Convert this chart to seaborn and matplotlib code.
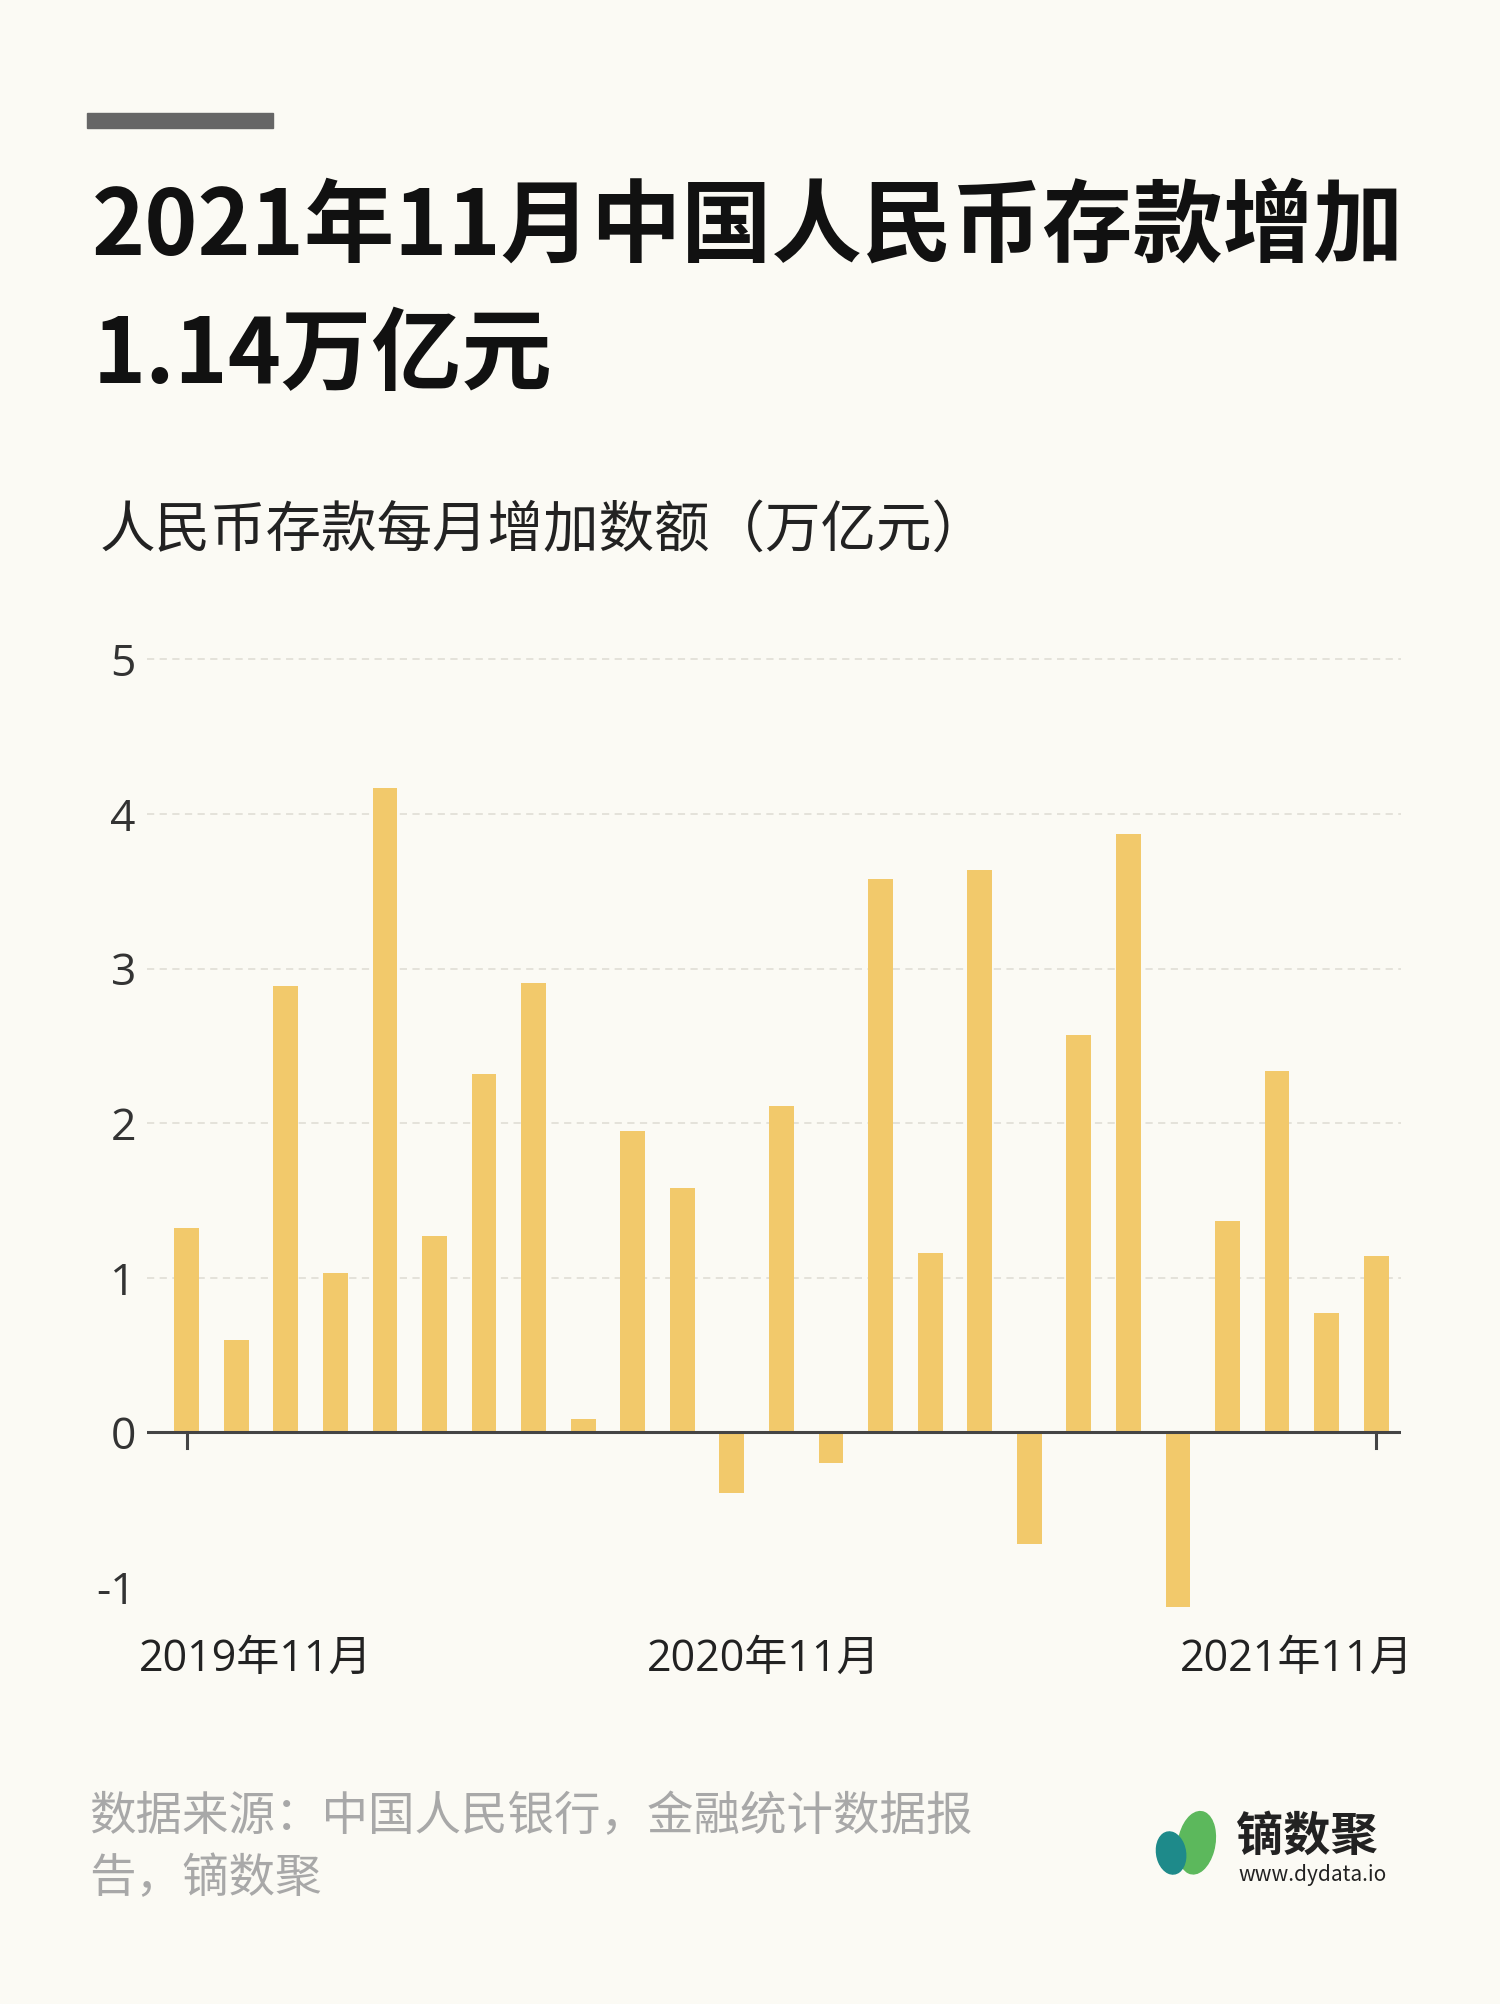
import matplotlib.pyplot as plt
import matplotlib.patches as mpatches
import pandas as pd
import seaborn as sns

plt.rcParams['font.family'] = 'Noto Sans CJK SC'

# monthly RMB deposit increase, trillion yuan
months = ['2019-11', '2019-12', '2020-01', '2020-02', '2020-03', '2020-04', '2020-05',
          '2020-06', '2020-07', '2020-08', '2020-09', '2020-10', '2020-11', '2020-12',
          '2021-01', '2021-02', '2021-03', '2021-04', '2021-05', '2021-06', '2021-07',
          '2021-08', '2021-09', '2021-10', '2021-11']
values = [1.32, 0.60, 2.89, 1.03, 4.17, 1.27, 2.32, 2.91, 0.09, 1.95, 1.58, -0.39, 2.11,
          -0.20, 3.58, 1.16, 3.64, -0.72, 2.57, 3.87, -1.13, 1.37, 2.34, 0.77, 1.14]
y_ticks = [-1, 0, 1, 2, 3, 4, 5]
x_labels = ['2019年11月', '2020年11月', '2021年11月']

bg = '#fbfaf4'
df = pd.DataFrame({'month': months, 'value': values})

fig = plt.figure(figsize=(15, 20.04), dpi=100, facecolor=bg)
ax = fig.add_axes([0.098, 0.1926, 0.836, 0.4938], facecolor=bg)

sns.barplot(data=df, x='month', y='value', color='#f2c96b', saturation=1, width=0.5, ax=ax)

ax.set_xlim(-0.8, 24.5)
ax.set_ylim(-1.2, 5.2)
for t in y_ticks[2:]:
    ax.axhline(t, color='#e2e0d8', lw=1.3, ls=(0, (4, 3)), zorder=0)
ax.axhline(0, color='#444444', lw=2.2, zorder=3)
for s in ax.spines.values():
    s.set_visible(False)
ax.set_yticks(y_ticks)
ax.set_yticklabels([str(t) for t in y_ticks], fontsize=32, color='#333333',
                   family='Open Sans')
ax.tick_params(axis='y', length=0, pad=8)
ax.set_xticks([])
ax.set_xlabel('')
ax.set_ylabel('')
# small tick marks on the zero line
for i in [0, 24]:
    ax.plot([i, i], [0, -0.1], color='#444444', lw=2.2, zorder=3, clip_on=False)

label_x = [200, 597, 1013]
for lx, lab in zip(label_x, x_labels):
    fig.text(lx / 1172, 1 - 1297 / 1566, lab, fontsize=31, color='#222222', ha='center',
             va='center', family=['Open Sans', 'Noto Sans CJK SC'])

# header
fig.patches.append(mpatches.Rectangle((68 / 1172, 1 - 100 / 1566), 145 / 1172, 12 / 1566,
                                      transform=fig.transFigure, color='#666666'))
fig.text(72 / 1172, 1 - 178 / 1566, '2021年11月中国人民币存款增加', fontsize=65,
         fontweight='bold', color='#111111', va='center')
fig.text(72 / 1172, 1 - 278 / 1566, '1.14万亿元', fontsize=65,
         fontweight='bold', color='#111111', va='center')
fig.text(78 / 1172, 1 - 415 / 1566, '人民币存款每月增加数额（万亿元）', fontsize=40,
         color='#222222', va='center')

# footer
fig.text(70 / 1172, 1 - 1420 / 1566, '数据来源：中国人民银行，金融统计数据报',
         fontsize=33.5, color='#a8a8a8', va='center')
fig.text(70 / 1172, 1 - 1468 / 1566, '告，镝数聚', fontsize=33.5, color='#a8a8a8', va='center')

# logo
fig.patches.append(mpatches.Ellipse((935 / 1172, 1 - 1440 / 1566), 28 / 1172, 50 / 1566,
                                    angle=-20, transform=fig.transFigure, color='#5cb85c'))
fig.patches.append(mpatches.Ellipse((915 / 1172, 1 - 1448 / 1566), 22 / 1172, 34 / 1566,
                                    angle=30, transform=fig.transFigure, color='#1e8a8a'))
fig.text(966 / 1172, 1 - 1435 / 1566, '镝数聚', fontsize=34, fontweight='bold',
         color='#222222', va='center')
fig.text(968 / 1172, 1 - 1465 / 1566, 'www.dydata.io', fontsize=15, color='#222222', va='center')

plt.savefig('out.png', dpi=100, facecolor=bg)
plt.close()
